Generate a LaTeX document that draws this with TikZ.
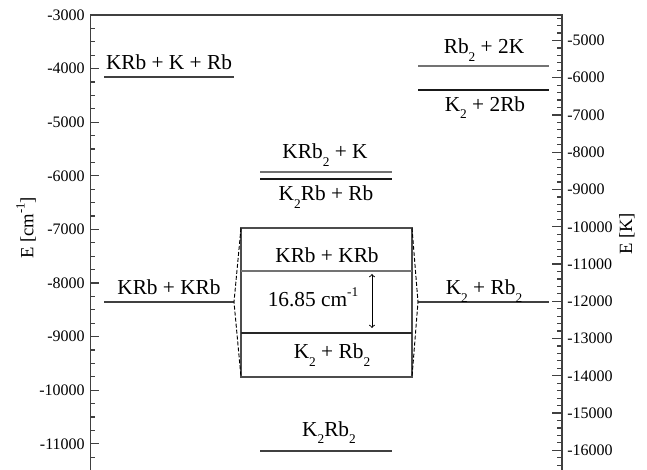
\documentclass[tikz,border=0pt]{standalone}
\usepackage{fontspec}
\setmainfont{Liberation Serif}
\newcommand{\lowidx}[1]{\raisebox{-5.5pt}{\fontsize{10}{10}\selectfont #1}}
\newcommand{\highidx}[1]{\raisebox{7.5pt}{\fontsize{10}{10}\selectfont #1}}
\newcommand{\axidx}[1]{\raisebox{6.5pt}{\fontsize{9.5}{9.5}\selectfont #1}}
\begin{document}
\begin{tikzpicture}[x=0.75pt, y=-0.75pt,
  level/.style={line width=1.1pt, black!#1},
  level/.default=75,
  spec/.style={font=\fontsize{16}{19}\selectfont, anchor=base, inner sep=0pt},
  axis/.style={line width=0.9pt, black!75},
  ticklab/.style={font=\fontsize{12}{14}\selectfont, inner sep=0pt},
  axlab/.style={font=\fontsize{14}{16}\selectfont, rotate=90, inner sep=0pt}]
  \useasboundingbox (0,0) rectangle (647,470);
  % axes
  \draw[axis] (90.5,470) -- (90.5,15) -- (562,15) -- (562,470);
  \foreach \e in {3000,4000,...,11000} {
    \draw[axis] (90.5,{15+(\e-3000)*0.0536}) -- ++(8,0);
    \node[ticklab, anchor=east] (cm\e) at (85,{15+(\e-3000)*0.0536}) {-\e};
  }
  \foreach \e in {3250,3500,...,11250}
    \draw[axis] (90.5,{15+(\e-3000)*0.0536}) -- ++(4.5,0);
  \foreach \k in {5,...,16} {
    \draw[axis] (562,{15+(\k-4.3164)*37.26}) -- ++(-10,0);
    \node[ticklab, anchor=west] (kk\k) at (567,{15+(\k-4.3164)*37.26}) {-\k000};
  }
  \foreach \i in {22,...,82}
    \draw[axis] (562,{15+(\i*0.2-4.3164)*37.26}) -- ++(-5,0);
  \node[axlab] (ycm) at (26,228) {E [cm\axidx{-1}]};
  \node[axlab] (yk) at (627,234) {E [K]};
  % levels
  \draw[level] (104,77) -- (234,77);
  \node[spec] (krbkrb) at (169,70) {KRb + K + Rb};
  \draw[level=55] (418,66) -- (549,66);
  \node[spec] (rbtwok) at (484,54) {Rb\lowidx{2} + 2K};
  \draw[level=90] (418,90) -- (549,90);
  \node[spec] (ktworb) at (485,111.5) {K\lowidx{2} + 2Rb};
  \draw[level=55] (260,172) -- (392,172);
  \node[spec] (krbk) at (325,159) {KRb\lowidx{2} + K};
  \draw[level=90] (260,179) -- (392,179);
  \node[spec] (ktrb) at (326,201) {K\lowidx{2}Rb + Rb};
  \draw[level] (104,302) -- (234,302);
  \node[spec] (pairl) at (169,295) {KRb + KRb};
  \draw[level] (418,302) -- (549,302);
  \node[spec] (pairr) at (484,295) {K\lowidx{2} + Rb\lowidx{2}};
  \draw[level] (260,451) -- (392,451);
  \node[spec] (tetra) at (329,436.5) {K\lowidx{2}Rb\lowidx{2}};
  % zoomed box
  \draw[black!70, line width=0.9pt] (241,228) rectangle (412,377);
  \draw[level=55] (241,271) -- (412,271);
  \draw[level=85] (241,333) -- (412,333);
  \node[spec] (zkrb) at (327,263) {KRb + KRb};
  \node[spec] (zkrb2) at (332,359) {K\lowidx{2} + Rb\lowidx{2}};
  \node[spec] (gap) at (313,306.5) {16.85 cm\highidx{-1}};
  \coordinate (atop) at (372,274);
  \coordinate (abot) at (372,328);
  \draw[<->, line width=0.7pt] (atop) -- (abot);
  \coordinate (lend) at (234,302);
  \coordinate (rend) at (418,302);
  \coordinate (bnw) at (241,228);
  \coordinate (bsw) at (241,377);
  \coordinate (bne) at (412,228);
  \coordinate (bse) at (412,377);
  \draw[black, line width=0.7pt, dash pattern=on 3pt off 1.5pt] (bnw) -- (lend) -- (bsw);
  \draw[black, line width=0.7pt, dash pattern=on 3pt off 1.5pt] (bne) -- (rend) -- (bse);
\end{tikzpicture}
\end{document}
